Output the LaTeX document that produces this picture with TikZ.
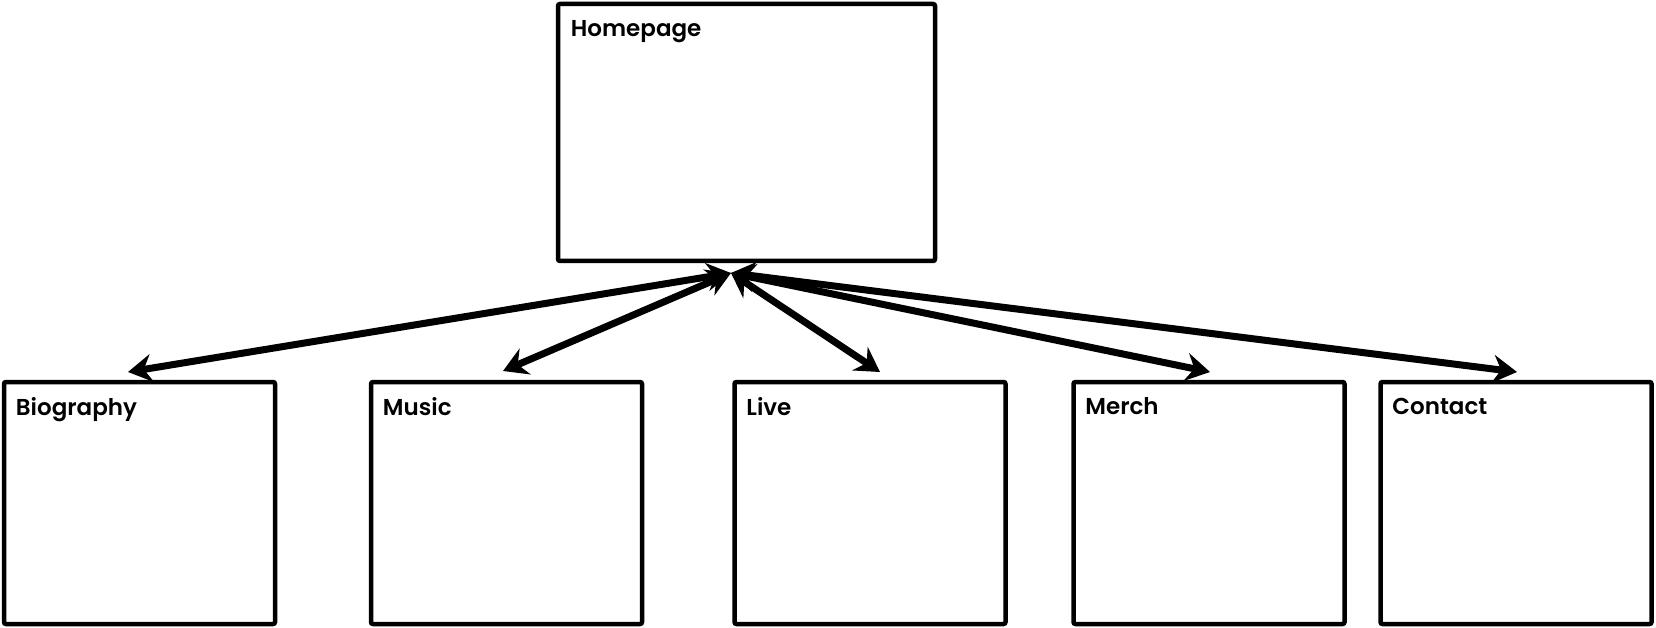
\documentclass[tikz,border=0pt]{standalone}
\usepackage{fontspec}
\setmainfont{Poppins}[UprightFont=* SemiBold]
\usetikzlibrary{arrows.meta}

\begin{document}
\begin{tikzpicture}[
		x=1pt, y=-1pt,
		pagebox/.style={
		% The shape:
		rectangle,
		% The border:
		line width=4.5pt,
		draw=black,
		rounded corners=2pt,
		% The filling:
		fill=white,
		inner sep=0pt
		},
		pagetitle/.style={
		% Font
		font=\fontsize{23}{28}\selectfont,
		anchor=north west,
		inner sep=0pt
		},
		link/.style={
		line width=7pt,
		{Stealth[length=24pt,width=28pt,inset=8pt]}-{Stealth[length=24pt,width=28pt,inset=8pt]}
		}
	]
	\useasboundingbox (0,0) rectangle (1656,628);

	% pages
	\node (H)[pagebox, minimum width=377pt, minimum height=257pt] at (746.5,132.5) {};
	\node (B)[pagebox, minimum width=271pt, minimum height=242pt] at (139.5,503) {};
	\node (M)[pagebox, minimum width=271pt, minimum height=242pt] at (506.5,503) {};
	\node (L)[pagebox, minimum width=271pt, minimum height=242pt] at (870,503) {};
	\node (R)[pagebox, minimum width=271pt, minimum height=242pt] at (1209,503) {};
	\node (C)[pagebox, minimum width=271pt, minimum height=242pt] at (1516,503) {};

	% titles
	\node (HT)[pagetitle] at ([shift={(15,18)}]H.north west) {Homepage};
	\node (BT)[pagetitle] at ([shift={(14,18)}]B.north west) {Biography};
	\node (MT)[pagetitle] at ([shift={(14,18)}]M.north west) {Music};
	\node (LT)[pagetitle] at ([shift={(14,18)}]L.north west) {Live};
	\node (RT)[pagetitle] at ([shift={(14,18)}]R.north west) {Merch};
	\node (CT)[pagetitle] at ([shift={(14,18)}]C.north west) {Contact};

	% arrow ends
	\coordinate (hub) at (731,273);
	\coordinate (Bend) at (128,372);
	\coordinate (Mend) at (503,371);
	\coordinate (Lend) at (880,372);
	\coordinate (Rend) at (1210,372);
	\coordinate (Cend) at (1517,372);

	\draw [link] (hub) -- (Bend);
	\draw [link] (hub) -- (Mend);
	\draw [link] (hub) -- (Lend);
	\draw [link] (hub) -- (Rend);
	\draw [link] (hub) -- (Cend);
\end{tikzpicture}
\end{document}
